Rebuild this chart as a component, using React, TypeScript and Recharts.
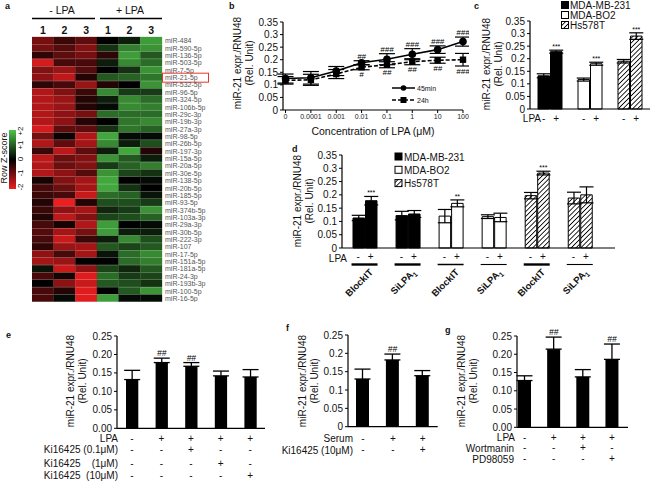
import React from "react";
import {
  Bar,
  BarChart,
  Cell,
  ErrorBar,
  LabelList,
  Line,
  LineChart,
  XAxis,
  YAxis,
} from "recharts";

const FONT = "'Liberation Sans', Arial, Helvetica, sans-serif";

// ---------- a: heatmap ----------
const mirNames = [
  "miR-484", "miR-590-5p", "miR-136-5p", "miR-503-5p", "miR-7-5p", "miR-21-5p",
  "miR-532-5p", "miR-96-5p", "miR-324-5p", "miR-106b-5p", "miR-29c-3p", "miR-19b-3p",
  "miR-27a-3p", "miR-98-5p", "miR-26b-5p", "miR-197-3p", "miR-15a-5p", "miR-20a-5p",
  "miR-30e-5p", "miR-138-5p", "miR-20b-5p", "miR-185-5p", "miR-93-5p", "miR-374b-5p",
  "miR-103a-3p", "miR-29a-3p", "miR-30b-5p", "miR-222-3p", "miR-107", "miR-17-5p",
  "miR-151a-5p", "miR-181a-5p", "miR-24-3p", "miR-193b-3p", "miR-100-5p", "miR-16-5p",
];
const heatColLabels = ["1", "2", "3", "1", "2", "3"];
const zMinus1 = [-1.0, -1.0, -0.4, -1.8, -1.1, -1.2, -0.4, -1.5, -1.5, -1.5, -1.5, -1.5, -1.8, -1.0, -1.5, -0.5, -1.6, -1.5, -1.5, -0.2, -0.6, -0.5, -0.3, -0.5, -0.3, -0.6, -0.7, -0.6, -0.4, -1.2, -1.4, 0.2, -0.6, 0.0, -0.6, -0.6];
const zMinus2 = [-0.5, -0.7, -0.8, -0.6, -1.3, -1.6, -0.6, -1.1, -1.3, -1.3, -1.2, -1.2, -0.8, -0.1, -0.8, -1.6, -0.9, -0.9, -1.2, -1.1, -0.9, -0.6, -2.0, -1.2, -1.6, -0.2, -1.4, -1.7, -1.3, -0.6, -1.3, -1.7, -0.2, -1.2, -0.3, 0.1];
const zMinus3 = [-0.8, -1.1, -1.0, -0.6, -0.7, -0.3, -1.3, -0.5, -0.3, -0.3, -1.0, -0.3, -0.8, -1.5, -1.4, -0.8, -1.1, -1.1, -0.7, -1.4, -1.4, -1.7, -0.3, -1.4, -1.1, -1.5, -1.0, -0.5, -1.4, -1.4, 0.0, -1.2, -1.9, -1.7, -1.9, -1.9];
const zPlus1 = [0.0, 0.5, -0.4, 0.3, 0.0, 0.9, -0.3, 1.4, 0.3, 0.1, 1.1, 0.0, 0.5, 1.7, 1.4, 0.3, 1.5, 0.6, 1.5, 1.7, 1.7, 1.1, 0.8, 0.4, 0.7, 1.6, 1.6, 0.3, 0.9, 0.2, 0.0, 0.7, 1.1, 0.9, 0.0, 1.6];
const zPlus2 = [0.3, 1.3, 1.6, 1.4, 0.5, 1.0, 0.0, 0.6, 1.4, 1.4, 1.1, 1.2, 1.2, 0.1, 0.3, 1.7, 0.9, 1.0, 0.7, 0.0, 0.5, 1.0, 0.8, 0.6, 0.8, 0.0, 0.3, 1.4, 0.7, 1.1, 1.1, 0.4, 0.6, 0.8, 0.9, 0.1];
const zPlus3 = [1.6, 1.5, 0.9, 1.1, 1.5, 1.2, 1.5, 0.6, 1.1, 1.3, 1.1, 1.4, 1.0, 0.1, 0.8, -0.3, 0.3, 1.3, 0.5, 0.1, 0.0, 0.2, 0.6, 1.5, 1.0, 0.1, 0.3, 0.8, 0.9, 1.4, 1.3, 0.9, 0.7, 0.5, 1.5, 0.1];
const heatColumns = [zMinus1, zMinus2, zMinus3, zPlus1, zPlus2, zPlus3];

// ---------- b: dose response ----------
const concLabels = ["0", "0.0001", "0.001", "0.01", "0.1", "1", "10", "100"];
const mir45min = [0.125, 0.128, 0.155, 0.188, 0.202, 0.222, 0.24, 0.272];
const err45min = [0.018, 0.025, 0.018, 0.008, 0.022, 0.022, 0.015, 0.018];
const mir24h = [0.118, 0.12, 0.143, 0.17, 0.18, 0.192, 0.198, 0.2];
const err24h = [0.015, 0.022, 0.018, 0.01, 0.012, 0.012, 0.012, 0.025];
const sig45min = ["", "", "", "##", "###", "###", "###", "###"];
const sig24h = ["", "", "", "#", "##", "##", "##", "###"];

// ---------- c: cell lines ----------
const cellLines = ["MDA-MB-231", "MDA-BO2", "Hs578T"];
const cCtrl = [0.132, 0.117, 0.19];
const cCtrlErr = [0.008, 0.006, 0.007];
const cLpa = [0.228, 0.18, 0.29];
const cLpaErr = [0.006, 0.006, 0.013];
const cSig = ["***", "***", "***"];

// ---------- d: knockdown ----------
const dGroups = ["BlockIT", "SiLPA1", "BlockIT", "SiLPA1", "BlockIT", "SiLPA1"];
const dLine = [0, 0, 1, 1, 2, 2];
const dCtrl = [0.113, 0.122, 0.12, 0.118, 0.197, 0.188];
const dCtrlErr = [0.01, 0.016, 0.025, 0.007, 0.012, 0.022];
const dLpa = [0.178, 0.128, 0.168, 0.115, 0.282, 0.2];
const dLpaErr = [0.016, 0.013, 0.013, 0.016, 0.007, 0.03];
const dSig = ["***", "", "**", "", "***", ""];

// ---------- e ----------
const eVals = [0.132, 0.178, 0.168, 0.142, 0.139];
const eErr = [0.025, 0.012, 0.01, 0.013, 0.02];
const eSig = ["", "##", "##", "", ""];
const eLpa = ["-", "+", "+", "+", "+"];
const eKi01 = ["-", "-", "+", "-", "-"];
const eKi1 = ["-", "-", "-", "+", "-"];
const eKi10 = ["-", "-", "-", "-", "+"];

// ---------- f ----------
const fVals = [0.13, 0.182, 0.139];
const fErr = [0.027, 0.016, 0.014];
const fSig = ["", "##", ""];
const fSerum = ["-", "+", "+"];
const fKi = ["-", "-", "+"];

// ---------- g ----------
const gVals = [0.128, 0.214, 0.138, 0.186];
const gErr = [0.013, 0.033, 0.02, 0.042];
const gSig = ["", "##", "", "##"];
const gLpa = ["-", "+", "+", "+"];
const gWort = ["-", "-", "+", "-"];
const gPd = ["-", "-", "-", "+"];

const ticks35 = [0, 0.05, 0.1, 0.15, 0.2, 0.25, 0.3, 0.35];
const ticks25 = [0, 0.05, 0.1, 0.15, 0.2, 0.25];

function zColor(z: number) {
  const t = Math.min(Math.abs(z) / 2, 1);
  if (z >= 0) return `rgb(${Math.round(78 * t)},${Math.round(196 * t)},${Math.round(72 * t)})`;
  return `rgb(${Math.round(236 * t)},${Math.round(30 * t)},${Math.round(32 * t)})`;
}

const axisProps = {
  stroke: "#000",
  strokeWidth: 1.2,
};
const tickText = { fontSize: 10, fill: "#111", fontFamily: FONT };

function Hatch({ id }: { id: string }) {
  return (
    <pattern id={id} patternUnits="userSpaceOnUse" width={3.4} height={3.4} patternTransform="rotate(45)">
      <rect width={3.4} height={3.4} fill="#fff" />
      <line x1={0} y1={0} x2={0} y2={3.4} stroke="#000" strokeWidth={1.7} />
    </pattern>
  );
}

function MirTick(props: any) {
  const { x, y, payload } = props;
  return (
    <g>
      <text x={x} y={y} dy={2.6} fontSize={7} fill="#555" fontFamily={FONT}>
        {payload.value}
      </text>
      {payload.value === "miR-21-5p" && (
        <rect x={x - 2.5} y={y - 4.3} width={46} height={9} fill="none" stroke="#e8352b" strokeWidth={1} />
      )}
    </g>
  );
}

function Heatmap() {
  const rows = mirNames.map((name) => ({ name, c0: 1, c1: 1, c2: 1, c3: 1, c4: 1, c5: 1 }));
  return (
    <div style={{ position: "absolute", left: 32, top: 23 }}>
      <BarChart
        layout="vertical"
        width={178}
        height={279}
        data={rows}
        margin={{ top: 0, right: 0, bottom: 0, left: 0 }}
        barCategoryGap={0}
      >
        <XAxis
          type="number"
          orientation="top"
          domain={[0, 6]}
          ticks={[0.5, 1.5, 2.5, 3.5, 4.5, 5.5]}
          tickFormatter={(v) => heatColLabels[Math.floor(v)]}
          height={14}
          axisLine={false}
          tickLine={false}
          tickSize={0}
          tickMargin={3}
          tick={{ fontSize: 10.5, fontWeight: "bold", fill: "#111", fontFamily: FONT }}
          interval={0}
        />
        <YAxis
          type="category"
          dataKey="name"
          orientation="right"
          width={48}
          axisLine={false}
          tickLine={false}
          tickSize={0}
          tickMargin={3}
          interval={0}
          tick={<MirTick />}
        />
        {heatColumns.map((col, ci) => (
          <Bar key={ci} dataKey={`c${ci}`} stackId="h" isAnimationActive={false}>
            {col.map((z, ri) => (
              <Cell key={ri} fill={zColor(z)} stroke={zColor(z)} strokeWidth={0.3} />
            ))}
          </Bar>
        ))}
      </BarChart>
    </div>
  );
}

function SquareDot(props: any) {
  const { cx, cy } = props;
  if (cx == null || cy == null) return null;
  return <rect x={cx - 3.2} y={cy - 3.2} width={6.4} height={6.4} fill="#000" />;
}

function DoseChart() {
  const data = concLabels.map((c, i) => ({
    i,
    v45: mir45min[i],
    e45: err45min[i],
    v24: mir24h[i],
    e24: err24h[i],
    top45: mir45min[i] + err45min[i],
    bot24: mir24h[i] - err24h[i],
    s45: sig45min[i],
    s24: sig24h[i],
  }));
  return (
    <div style={{ position: "absolute", left: 251, top: 16 }}>
      <LineChart width={218} height={108} data={data} margin={{ top: 6, right: 6, bottom: 0, left: 0 }}>
        <XAxis
          dataKey="i"
          type="number"
          domain={[-0.1, 7]}
          ticks={[0, 1, 2, 3, 4, 5, 6, 7]}
          tickFormatter={(v) => concLabels[v]}
          interval={0}
          height={14}
          tickSize={3}
          tickMargin={1}
          axisLine={axisProps}
          tickLine={{ stroke: "#000" }}
          tick={{ fontSize: 7, fill: "#222", fontFamily: FONT }}
        />
        <YAxis
          type="number"
          domain={[0, 0.35]}
          ticks={ticks35}
          tickFormatter={(v) => String(v)}
          width={32}
          tickSize={3}
          tickMargin={2}
          axisLine={axisProps}
          tickLine={{ stroke: "#000" }}
          tick={tickText}
          interval={0}
        />
        <Line
          dataKey="v24"
          stroke="#000"
          strokeWidth={1.6}
          strokeDasharray="4 2"
          dot={<SquareDot />}
          activeDot={false}
          isAnimationActive={false}
        >
          <ErrorBar dataKey="e24" width={8} stroke="#000" strokeWidth={1.2} direction="y" />
        </Line>
        <Line
          dataKey="v45"
          stroke="#000"
          strokeWidth={1.6}
          dot={{ r: 3, fill: "#000", stroke: "#000" }}
          activeDot={false}
          isAnimationActive={false}
        >
          <ErrorBar dataKey="e45" width={8} stroke="#000" strokeWidth={1.2} direction="y" />
        </Line>
        <Line dataKey="top45" stroke="none" dot={false} activeDot={false} isAnimationActive={false}>
          <LabelList dataKey="s45" position="top" offset={2} fontSize={8} fontStyle="italic" fill="#000" fontFamily={FONT} />
        </Line>
        <Line dataKey="bot24" stroke="none" dot={false} activeDot={false} isAnimationActive={false}>
          <LabelList dataKey="s24" position="bottom" offset={2} fontSize={8} fontStyle="italic" fill="#000" fontFamily={FONT} />
        </Line>
      </LineChart>
    </div>
  );
}

const lineFill = ["#000", "#fff", "url(#hatchC)"];
const lineFillD = ["#000", "#fff", "url(#hatchD)"];

function PairTick(props: any) {
  const { x, y } = props;
  return (
    <g fontFamily={FONT} fontSize={10} fill="#111">
      <text x={x - 6.25} y={y + 12.5} textAnchor="middle">-</text>
      <text x={x + 6.25} y={y + 12.5} textAnchor="middle">+</text>
    </g>
  );
}

const dUnderline = [2.4, 2.4, 1.5, 1.1, 2.4, 1.1];

function KnockTick(props: any) {
  const { x, y, index } = props;
  const name = dGroups[index];
  const isSi = name.startsWith("SiLPA");
  return (
    <g fontFamily={FONT} fill="#111">
      <text x={x - 6.25} y={y + 12.5} textAnchor="middle" fontSize={10}>-</text>
      <text x={x + 6.25} y={y + 12.5} textAnchor="middle" fontSize={10}>+</text>
      <line x1={x - 13} x2={x + 13} y1={y + 16.5} y2={y + 16.5} stroke="#000" strokeWidth={dUnderline[index]} />
      <text
        transform={`translate(${x + 9},${y + 25}) rotate(-45)`}
        textAnchor="end"
        fontSize={9.5}
        fontWeight="bold"
      >
        {isSi ? (
          <>
            SiLPA<tspan fontSize={7} dy={2.5}>1</tspan>
          </>
        ) : (
          name
        )}
      </text>
    </g>
  );
}

function CellLineChart() {
  const data = cellLines.map((k, i) => ({
    k,
    ctrl: cCtrl[i],
    ctrlErr: cCtrlErr[i],
    ctrlPad: 0,
    lpa: cLpa[i],
    lpaErr: cLpaErr[i],
    pad: cLpaErr[i],
    sig: cSig[i],
  }));
  return (
    <div style={{ position: "absolute", left: 495, top: 15 }}>
      <BarChart width={155} height={124} data={data} margin={{ top: 6, right: 0, bottom: 0, left: 0 }} barGap={1}>
        <defs>
          <Hatch id="hatchC" />
        </defs>
        <XAxis
          dataKey="k"
          type="category"
          height={30}
          axisLine={axisProps}
          tickLine={false}
          tickSize={0}
          tickMargin={0}
          interval={0}
          tick={<PairTick />}
        />
        <YAxis
          type="number"
          domain={[0, 0.35]}
          ticks={ticks35}
          tickFormatter={(v) => String(v)}
          width={35}
          tickSize={3}
          tickMargin={2}
          axisLine={axisProps}
          tickLine={{ stroke: "#000" }}
          tick={tickText}
          interval={0}
        />
        <Bar dataKey="ctrl" stackId="m" barSize={11.5} stroke="#000" strokeWidth={1} isAnimationActive={false}>
          {data.map((_, i) => (
            <Cell key={i} fill={lineFill[i]} />
          ))}
          <ErrorBar dataKey="ctrlErr" width={7} stroke="#000" strokeWidth={1.2} direction="y" />
        </Bar>
        <Bar dataKey="ctrlPad" stackId="m" barSize={11.5} fill="transparent" isAnimationActive={false} />
        <Bar dataKey="lpa" stackId="p" barSize={11.5} stroke="#000" strokeWidth={1} isAnimationActive={false}>
          {data.map((_, i) => (
            <Cell key={i} fill={lineFill[i]} />
          ))}
          <ErrorBar dataKey="lpaErr" width={7} stroke="#000" strokeWidth={1.2} direction="y" />
        </Bar>
        <Bar dataKey="pad" stackId="p" barSize={11.5} fill="transparent" isAnimationActive={false}>
          <LabelList dataKey="sig" position="top" offset={1} fontSize={7} fill="#000" fontFamily={FONT} />
        </Bar>
      </BarChart>
    </div>
  );
}

function KnockdownChart() {
  const data = dGroups.map((g, i) => ({
    k: i,
    ctrl: dCtrl[i],
    ctrlErr: dCtrlErr[i],
    ctrlPad: 0,
    lpa: dLpa[i],
    lpaErr: dLpaErr[i],
    pad: dLpaErr[i],
    sig: dSig[i],
  }));
  return (
    <div style={{ position: "absolute", left: 303.7, top: 149 }}>
      <BarChart width={311.3} height={149} data={data} margin={{ top: 6, right: 0, bottom: 0, left: 0 }} barGap={1}>
        <defs>
          <Hatch id="hatchD" />
        </defs>
        <XAxis
          dataKey="k"
          type="category"
          height={50}
          padding={{ left: 1, right: 14 }}
          axisLine={axisProps}
          tickLine={false}
          tickSize={0}
          tickMargin={0}
          interval={0}
          tick={<KnockTick />}
        />
        <YAxis
          type="number"
          domain={[0, 0.35]}
          ticks={ticks35}
          tickFormatter={(v) => String(v)}
          width={38}
          tickSize={3}
          tickMargin={2}
          axisLine={axisProps}
          tickLine={{ stroke: "#000" }}
          tick={tickText}
          interval={0}
        />
        <Bar dataKey="ctrl" stackId="m" barSize={11.5} stroke="#000" strokeWidth={1} isAnimationActive={false}>
          {data.map((_, i) => (
            <Cell key={i} fill={lineFillD[dLine[i]]} />
          ))}
          <ErrorBar dataKey="ctrlErr" width={7} stroke="#000" strokeWidth={1.2} direction="y" />
        </Bar>
        <Bar dataKey="ctrlPad" stackId="m" barSize={11.5} fill="transparent" isAnimationActive={false} />
        <Bar dataKey="lpa" stackId="p" barSize={11.5} stroke="#000" strokeWidth={1} isAnimationActive={false}>
          {data.map((_, i) => (
            <Cell key={i} fill={lineFillD[dLine[i]]} />
          ))}
          <ErrorBar dataKey="lpaErr" width={7} stroke="#000" strokeWidth={1.2} direction="y" />
        </Bar>
        <Bar dataKey="pad" stackId="p" barSize={11.5} fill="transparent" isAnimationActive={false}>
          <LabelList dataKey="sig" position="top" offset={1} fontSize={7} fill="#000" fontFamily={FONT} />
        </Bar>
      </BarChart>
    </div>
  );
}

type SmallProps = {
  vals: number[];
  errs: number[];
  sigs: string[];
  rows: string[][];
  rowDy: number[];
  L: number;
  R: number;
  T: number;
  B: number;
  yw: number;
  xh: number;
  barSize: number;
  fmt: (v: number) => string;
  padL?: number;
  padR?: number;
};

function SignTick(props: any) {
  const { x, y, index, rows, rowDy } = props;
  return (
    <g fontFamily={FONT} fontSize={10} fill="#111">
      {rows.map((r: string[], ri: number) => (
        <text key={ri} x={x} y={y + rowDy[ri]} textAnchor="middle">
          {r[index]}
        </text>
      ))}
    </g>
  );
}

function SmallBars(p: SmallProps) {
  const mt = 8;
  const data = p.vals.map((v, i) => ({ k: i, v, eb: [0, p.errs[i]], pad: p.errs[i], sig: p.sigs[i] }));
  return (
    <div style={{ position: "absolute", left: p.L - p.yw, top: p.T - mt }}>
      <BarChart
        width={p.yw + p.R - p.L}
        height={mt + p.B - p.T + p.xh}
        data={data}
        margin={{ top: mt, right: 0, bottom: 0, left: 0 }}
      >
        <XAxis
          dataKey="k"
          type="category"
          height={p.xh}
          padding={{ left: p.padL ?? 0, right: p.padR ?? 0 }}
          axisLine={axisProps}
          tickLine={false}
          tickSize={0}
          tickMargin={0}
          interval={0}
          tick={(tp: any) => <SignTick {...tp} rows={p.rows} rowDy={p.rowDy} />}
        />
        <YAxis
          type="number"
          domain={[0, 0.25]}
          ticks={ticks25}
          tickFormatter={p.fmt}
          width={p.yw}
          tickSize={3}
          tickMargin={2}
          axisLine={axisProps}
          tickLine={{ stroke: "#000" }}
          tick={tickText}
          interval={0}
        />
        <Bar dataKey="v" stackId="s" barSize={p.barSize} fill="#000" isAnimationActive={false}>
          <ErrorBar dataKey="eb" width={8} stroke="#000" strokeWidth={1.3} direction="y" />
        </Bar>
        <Bar dataKey="pad" stackId="s" barSize={p.barSize} fill="transparent" isAnimationActive={false}>
          <LabelList dataKey="sig" position="top" offset={2} fontSize={8.5} fontStyle="italic" fill="#000" fontFamily={FONT} />
        </Bar>
      </BarChart>
    </div>
  );
}

function VLabel({ x, y }: { x: number; y: number }) {
  return (
    <g fontSize={10} fill="#111">
      <text transform={`translate(${x},${y}) rotate(-90)`} textAnchor="middle">
        miR-21 expr./RNU48
      </text>
      <text transform={`translate(${x + 12},${y}) rotate(-90)`} textAnchor="middle">
        (Rel. Unit)
      </text>
    </g>
  );
}

function Overlay() {
  const legendRows = [0, 1, 2];
  return (
    <svg
      width={650}
      height={491}
      style={{ position: "absolute", left: 0, top: 0, pointerEvents: "none" }}
      fontFamily={FONT}
    >
      <defs>
        <linearGradient id="zgrad" x1="0" y1="0" x2="0" y2="1">
          <stop offset="0" stopColor={zColor(2)} />
          <stop offset="0.5" stopColor="#000" />
          <stop offset="1" stopColor={zColor(-2)} />
        </linearGradient>
        <Hatch id="hatchL" />
      </defs>

      {/* panel letters */}
      <g fontSize={9} fontWeight="bold" fill="#111">
        <text x={5} y={9}>a</text>
        <text x={229} y={9}>b</text>
        <text x={474} y={9}>c</text>
        <text x={292} y={152}>d</text>
        <text x={6} y={338}>e</text>
        <text x={286} y={331}>f</text>
        <text x={445} y={333}>g</text>
      </g>

      {/* a header */}
      <g fontSize={10.5} fill="#111" textAnchor="middle">
        <text x={62} y={14}>- LPA</text>
        <text x={130} y={14}>+ LPA</text>
      </g>
      <line x1={32} x2={95} y1={18.5} y2={18.5} stroke="#000" strokeWidth={1.3} />
      <line x1={100} x2={162} y1={18.5} y2={18.5} stroke="#000" strokeWidth={1.3} />

      {/* a colour key */}
      <rect x={9} y={130} width={7} height={59} fill="url(#zgrad)" />
      <g fontSize={8} fill="#111" textAnchor="middle">
        {["+2", "+1", "0", "-1", "-2"].map((t, i) => (
          <text key={t} transform={`translate(${23},${131 + i * 14}) rotate(-90)`}>
            {t}
          </text>
        ))}
        <text transform="translate(7,158) rotate(-90)" fontSize={9}>Row Z-score</text>
      </g>

      {/* b */}
      <VLabel x={241} y={63} />
      <text x={373} y={135} fontSize={10.5} textAnchor="middle" fill="#111">
        Concentration of LPA (μM)
      </text>
      <line x1={392} x2={415} y1={88} y2={88} stroke="#000" strokeWidth={1.5} />
      <circle cx={403.5} cy={88} r={2.8} fill="#000" />
      <text x={417} y={90.5} fontSize={7} fill="#111">45min</text>
      <line x1={392} x2={415} y1={100} y2={100} stroke="#000" strokeWidth={1.5} strokeDasharray="4 2" />
      <rect x={400.5} y={97} width={6} height={6} fill="#000" />
      <text x={417} y={102.5} fontSize={7} fill="#111">24h</text>

      {/* c */}
      <VLabel x={490} y={64} />
      <text x={541} y={121.5} fontSize={10} textAnchor="end" fill="#111">LPA</text>
      {legendRows.map((i) => (
        <g key={i}>
          <rect x={561.5} y={1.5 + i * 10} width={7} height={7} fill={["#000", "#fff", "url(#hatchL)"][i]} stroke="#000" strokeWidth={1} />
          <text x={570} y={9 + i * 10} fontSize={10} fill="#111">{cellLines[i]}</text>
        </g>
      ))}

      {/* d */}
      <VLabel x={301} y={201} />
      <text x={347} y={262} fontSize={10} textAnchor="end" fill="#111">LPA</text>
      {legendRows.map((i) => (
        <g key={i}>
          <rect x={395} y={153 + i * 13.3} width={7} height={7} fill={["#000", "#fff", "url(#hatchL)"][i]} stroke="#000" strokeWidth={1} />
          <text x={404} y={160.5 + i * 13.3} fontSize={10} fill="#111">{cellLines[i]}</text>
        </g>
      ))}

      {/* e */}
      <VLabel x={73.5} y={381} />
      <g fontSize={10} fill="#111" textAnchor="end">
        <text x={118} y={442}>LPA</text>
        <text x={118} y={453.2}>Ki16425 (0.1μM)</text>
        <text x={118} y={466.8}>{"Ki16425\u00a0\u00a0\u00a0\u00a0(1μM)"}</text>
        <text x={118} y={479.2}>{"Ki16425\u00a0\u00a0(10μM)"}</text>
      </g>

      {/* f */}
      <VLabel x={305.5} y={381} />
      <g fontSize={10} fill="#111" textAnchor="end">
        <text x={353} y={442}>Serum</text>
        <text x={353} y={453.5}>Ki16425 (10μM)</text>
      </g>

      {/* g */}
      <VLabel x={465} y={381} />
      <g fontSize={10} fill="#111" textAnchor="end">
        <text x={515} y={441}>LPA</text>
        <text x={514} y={451.5}>Wortmanin</text>
        <text x={514} y={462.5}>PD98059</text>
      </g>
    </svg>
  );
}

export default function App() {
  return (
    <div
      style={{
        position: "absolute",
        left: 0,
        top: 0,
        width: 650,
        height: 491,
        background: "#fff",
        fontFamily: FONT,
        overflow: "hidden",
      }}
    >
      <Heatmap />
      <DoseChart />
      <CellLineChart />
      <KnockdownChart />
      <SmallBars
        vals={eVals}
        errs={eErr}
        sigs={eSig}
        rows={[eLpa, eKi01, eKi1, eKi10]}
        rowDy={[13.7, 24.9, 38.5, 50.9]}
        L={117}
        R={265}
        T={336}
        B={428.3}
        yw={30}
        xh={56}
        barSize={12.3}
        fmt={(v) => v.toFixed(2)}
      />
      <SmallBars
        vals={fVals}
        errs={fErr}
        sigs={fSig}
        rows={[fSerum, fKi]}
        rowDy={[15.3, 26.8]}
        L={348.3}
        R={438}
        T={335}
        B={426.7}
        yw={30}
        xh={32}
        barSize={13}
        fmt={(v) => String(v)}
      />
      <SmallBars
        vals={gVals}
        errs={gErr}
        sigs={gSig}
        rows={[gLpa, gWort, gPd]}
        rowDy={[13.7, 24.2, 35.2]}
        L={516.7}
        R={628.3}
        T={336}
        B={427.3}
        yw={30}
        xh={40}
        barSize={13}
        padL={-7}
        padR={2}
        fmt={(v) => v.toFixed(2)}
      />
      <Overlay />
    </div>
  );
}
